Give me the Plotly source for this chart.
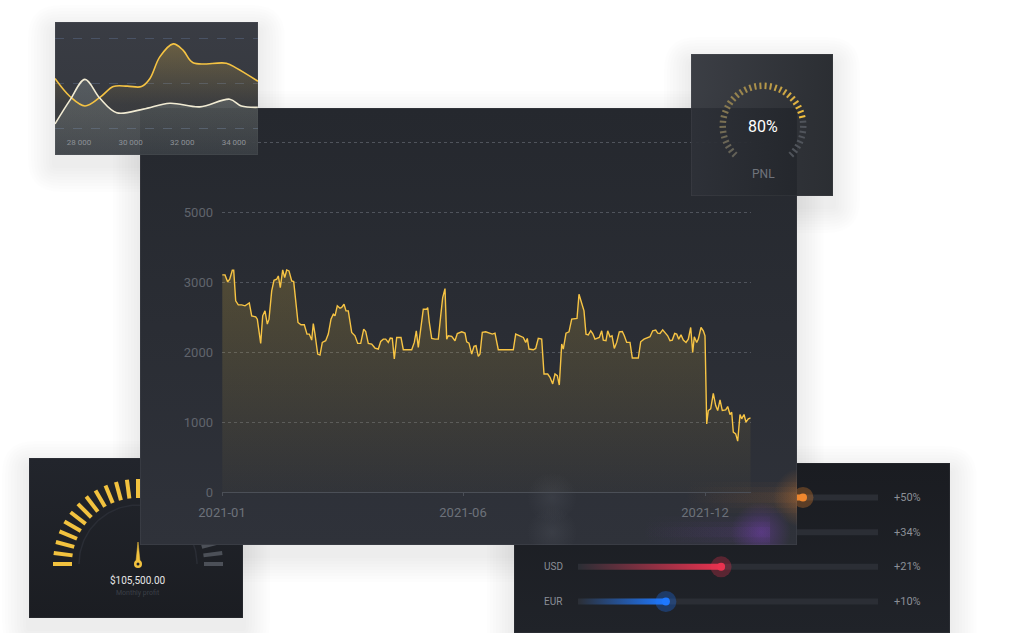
import numpy as np
import plotly.graph_objects as go

W, H = 1020, 633
FONT = "Roboto"

# ---------------------------------------------------------------- data
# main area chart (x = step index along the year, y = value)
main_t = [0.3, 3, 5.7, 7.7, 10.3, 11.7, 13.7, 16.3, 19.7, 23, 25.3, 27.3, 29.7, 33.7, 35.3, 38.7,
          40.7, 43, 45.3, 47, 49.7, 52, 54.7, 56.3, 58.3, 60.7, 62.7, 64.7, 67, 69.7, 71.7, 76,
          79, 82.3, 85, 87.3, 89.7, 91.3, 93, 95.7, 98, 100.3, 103.7, 106.3, 109, 111.3, 113,
          115.3, 118, 119.7, 122, 124, 126.3, 129.7, 133, 135.7, 138.7, 141.7, 143.7, 146.3,
          149.7, 153, 156.3, 158.7, 161.3, 163.7, 166.3, 168.3, 170.3, 172.3, 174.7,
          179, 181.3, 184.7, 189.7, 192.3, 194.3, 196.3, 199, 201.3, 204.7, 205.7, 207.3, 209.7,
          213, 216.3, 218.7, 220.7, 223, 224.7, 226.3, 229.7, 233, 235.3, 239.7, 243, 244.7,
          247, 249.7, 252, 254, 256.3, 258, 260.3, 263.7, 267, 270.3, 273, 276.3, 279.7, 283,
          286.3, 291.3, 293.7, 298, 301.3, 303.7, 305.3, 307, 311.3, 313.7, 316.3, 319.7, 322,
          325.7, 328, 330.7, 333, 335.3, 337.3, 339.7, 341.3, 344, 347, 349.7, 353, 355, 357,
          359.7, 362, 364, 366.3, 368.7, 370.7, 373, 375.3, 377.3, 379.7, 381.3, 384, 385.7,
          388, 390, 392.3, 394.7, 397.3, 400.3, 402.3, 404.7, 408, 410.3, 416.3, 418.7, 422,
          425.3, 428, 430.7, 433.7, 435.7, 438, 440.7, 443, 445.7, 448, 450.3, 452.7, 454.7,
          456.7, 459, 461.3, 464, 466.3, 468.7, 470.7, 472.3, 474.7, 476.3, 479, 481.3, 483,
          484.7, 486.3, 488.7, 491.3, 493.7, 495.7, 498, 500.3, 503.7, 505.7, 508, 509.7,
          511.3, 513.7, 515.7, 518, 519.7, 522, 524, 526.3, 528.7]
main_v = [3110, 3110, 3010, 3048, 3176, 3176, 2738, 2681, 2681, 2667, 2690, 2710, 2524, 2510, 2476, 2129,
          2524, 2595, 2405, 2476, 2881, 3033, 3048, 3095, 2929, 3181, 3071, 3181, 3167, 3024, 3014, 2429,
          2395, 2395, 2262, 2262, 2176, 2414, 2262, 1976, 1962, 2143, 2167, 2262, 2476, 2548, 2524,
          2667, 2633, 2643, 2690, 2595, 2595, 2286, 2238, 2129, 2129, 2333, 2300, 2129,
          2119, 2062, 2048, 2157, 2190, 2190, 2143, 2205, 2200, 1905, 2214,
          2214, 2038, 2038, 2038, 2143, 2310, 2071, 2381, 2619, 2619, 2643, 2429, 2200,
          2190, 2190, 2524, 2786, 2914, 2190, 2238, 2229, 2167, 2271, 2295, 2276, 2152,
          2133, 1976, 2086, 2095, 1943, 1976, 2286, 2295, 2276, 2262, 2276, 2038, 2038, 2038,
          2048, 2038, 2262, 2238, 2214, 2143, 2200, 2048, 2038, 2057, 2200, 2190, 1690,
          1690, 1643, 1548, 1690, 1667, 1533, 2119, 2048, 2276, 2295, 2476, 2476, 2486, 2833,
          2690, 2595, 2262, 2252, 2310, 2271, 2190, 2205, 2214, 2310, 2176, 2167, 2310,
          2224, 2238, 2057, 2143, 2295, 2300, 2238, 2143, 2143, 1919, 1919, 2152, 2190,
          2214, 2224, 2310, 2319, 2276, 2271, 2324, 2286, 2238, 2167, 2176, 2271, 2262,
          2190, 2252, 2176, 2143, 2190, 2357, 2000, 2224, 2143, 2190, 2357, 2310, 2238,
          976, 1167, 1190, 1414, 1238, 1167, 1319, 1167, 1176, 1224, 1110, 1143,
          857, 833, 729, 1110, 1048, 1110, 1000, 1048, 1062]
main_x_tickvals = [0, 241, 483]
main_x_ticktext = ["2021-01", "2021-06", "2021-12"]
main_y_tickvals = [0, 1000, 2000, 3000, 4000, 5000]
main_y_ticktext = ["0", "1000", "2000", "3000", "5000", ""]

# small two-series chart
mini_yellow_x = [27070, 27650, 28230, 28810, 29330, 29870, 30420, 30750, 31130, 31650, 32030, 32420, 33710, 34100, 34930]
mini_yellow_y = [17.0, 13.0, 10.9, 12.8, 15.2, 15.3, 15.2, 17.0, 21.8, 24.7, 23.3, 20.5, 20.4, 19.3, 16.4]
mini_white_x = [27070, 27650, 28230, 28810, 29460, 30490, 31520, 32680, 33840, 34290, 34930]
mini_white_y = [6.9, 12.2, 16.8, 12.6, 9.4, 10.2, 11.5, 10.7, 12.4, 10.9, 10.6]
mini_tickvals = [28000, 30000, 32000, 34000]
mini_ticktext = ["28 000", "30 000", "32 000", "34 000"]

# gauges
pnl_percent = 80
profit_amount = 105500.00
profit_share = 0.5

# sliders
slider_names = [None, None, "USD", "EUR"]
slider_change = [50, 34, 21, 10]
slider_level = [0.75, 0.61, 0.477, 0.293]
slider_colors = ["#f0872e", "#8b45d6", "#e8324f", "#1e78ff"]

# ---------------------------------------------------------------- geometry (px)
P_GAUGE = (29, 458, 243, 618)
P_SLIDER = (514, 463, 950, 633)
P_MAIN = (140, 108, 797, 545)
P_MINI = (55, 22, 258, 155)
P_PNL = (691, 54, 833, 196)
MAIN_PLOT = (222, 138.8, 750.7, 492)
MAIN_YMAX = 5060
GAUGE_C = (138, 564)
PNL_C = (763, 126)
TRACK_X0, TRACK_LEN, ROW_Y0, ROW_GAP = 578, 300, 497.5, 34.67


def dom(r):
    x0, y0, x1, y1 = r
    return [x0 / W, x1 / W], [1 - y1 / H, 1 - y0 / H]


def rgba(hexc, a):
    h = hexc.lstrip("#")
    return "rgba(%d,%d,%d,%.3f)" % (int(h[0:2], 16), int(h[2:4], 16), int(h[4:6], 16), a)


def sx_(px):
    return (px - TRACK_X0) / TRACK_LEN


def sy_(py):
    return (py - ROW_Y0) / ROW_GAP


layout = dict(template="none", width=W, height=H, autosize=False, margin=dict(l=0, r=0, t=0, b=0, pad=0),
              paper_bgcolor="white", plot_bgcolor="rgba(0,0,0,0)", showlegend=False,
              hovermode=False, font=dict(family=FONT), shapes=[], annotations=[])


def set_axes(n, rect, xr, yr):
    xd, yd = dom(rect)
    s = "" if n == 1 else str(n)
    layout["xaxis" + s] = dict(domain=xd, range=xr, anchor="y" + s, visible=False, fixedrange=True,
                               automargin=False)
    layout["yaxis" + s] = dict(domain=yd, range=yr, anchor="x" + s, visible=False, fixedrange=True,
                               automargin=False)
    return xr, yr


R1 = set_axes(1, P_GAUGE, [P_GAUGE[0] - GAUGE_C[0], P_GAUGE[2] - GAUGE_C[0]],
              [GAUGE_C[1] - P_GAUGE[3], GAUGE_C[1] - P_GAUGE[1]])
R2 = set_axes(2, P_SLIDER, [sx_(P_SLIDER[0]), sx_(P_SLIDER[2])], [sy_(P_SLIDER[3]), sy_(P_SLIDER[1])])
R3 = set_axes(3, P_MAIN, [sx_(P_MAIN[0]), sx_(P_MAIN[2])], [sy_(P_MAIN[3]), sy_(P_MAIN[1])])
R4 = set_axes(4, MAIN_PLOT, [0, 528.7], [0, MAIN_YMAX])
R5 = set_axes(5, P_MINI, [0, 1], [0, 1])
R6 = set_axes(6, P_MINI, [27070, 34935], [0, 29.56])
R7 = set_axes(7, P_PNL, [P_PNL[0] - PNL_C[0], P_PNL[2] - PNL_C[0]],
              [PNL_C[1] - P_PNL[3], PNL_C[1] - P_PNL[1]])

traces = []


def ax(n):
    s = "" if n == 1 else str(n)
    return dict(xaxis="x" + s, yaxis="y" + s, hoverinfo="skip", showlegend=False)


def bg_rect(n, R, c0, c1, gtype="vertical", border="rgba(255,255,255,0.06)"):
    xr, yr = R
    traces.append(go.Scatter(x=[xr[0], xr[1], xr[1], xr[0], xr[0]], y=[yr[0], yr[0], yr[1], yr[1], yr[0]],
                             mode="lines", fill="toself", line=dict(color=border, width=1.5),
                             fillgradient=dict(type=gtype, colorscale=[[0, c0], [1, c1]]), **ax(n)))


def glow(n, x, y, size, col, a):
    traces.append(go.Scatter(x=[x], y=[y], mode="markers",
                             marker=dict(size=size, color=rgba(col, 0), line=dict(width=0),
                                         gradient=dict(type="radial", color=rgba(col, a))), **ax(n)))


def rounded_path(x0, y0, x1, y1, r):
    # pixel rect -> paper path with rounded corners
    X = lambda v: "%.5f" % (v / W)
    Y = lambda v: "%.5f" % (1 - v / H)
    return ("M %s,%s L %s,%s Q %s,%s %s,%s L %s,%s Q %s,%s %s,%s L %s,%s Q %s,%s %s,%s "
            "L %s,%s Q %s,%s %s,%s Z" % (
                X(x0 + r), Y(y0), X(x1 - r), Y(y0), X(x1), Y(y0), X(x1), Y(y0 + r),
                X(x1), Y(y1 - r), X(x1), Y(y1), X(x1 - r), Y(y1),
                X(x0 + r), Y(y1), X(x0), Y(y1), X(x0), Y(y1 - r),
                X(x0), Y(y0 + r), X(x0), Y(y0), X(x0 + r), Y(y0)))


# ---------------------------------------------------------------- soft shadows
for rect in [P_GAUGE, P_SLIDER, P_MAIN, P_MINI, P_PNL]:
    for k in range(1, 10):
        e = 3.0 * k
        layout["shapes"].append(dict(type="path", xref="paper", yref="paper", layer="below",
                                     path=rounded_path(rect[0] - e, rect[1] - e + 10, rect[2] + e,
                                                       rect[3] + e + 10, e * 1.2),
                                     line=dict(width=0), fillcolor="rgba(0,0,0,0.009)"))

# ---------------------------------------------------------------- 1: profit gauge
bg_rect(1, R1, "#1b1d22", "#22252c")
arc = np.radians(np.linspace(180, 0, 90))
traces.append(go.Scatter(x=59 * np.cos(arc), y=59 * np.sin(arc), mode="lines",
                         line=dict(color="#2a2d35", width=1.5), **ax(1)))
n_g = 25
for on, col in [(True, "#f2c23f"), (False, "#4c5058")]:
    xs, ys = [], []
    for i in range(n_g):
        f = i / (n_g - 1)
        if (f <= profit_share + 1e-9) != on:
            continue
        a = np.radians(180 - 180 * f)
        xs += [66 * np.cos(a), 85 * np.cos(a), None]
        ys += [66 * np.sin(a), 85 * np.sin(a), None]
    traces.append(go.Scatter(x=xs, y=ys, mode="lines", line=dict(color=col, width=4), **ax(1)))
na = np.radians(180 - 180 * profit_share)
px_, py_ = -np.sin(na), np.cos(na)
traces.append(go.Scatter(x=[2.3 * px_, 22 * np.cos(na), -2.3 * px_, 2.3 * px_],
                         y=[2.3 * py_, 22 * np.sin(na), -2.3 * py_, 2.3 * py_],
                         mode="lines", fill="toself", fillcolor="#f2c23f",
                         line=dict(color="#f2c23f", width=0.5), **ax(1)))
traces.append(go.Scatter(x=[0], y=[0], mode="markers", marker=dict(size=8, color="#f2c23f"), **ax(1)))
traces.append(go.Scatter(x=[0], y=[0], mode="markers", marker=dict(size=3, color="#1e2128"), **ax(1)))
layout["annotations"] += [
    dict(xref="x", yref="y", x=0, y=-16, text="$%s" % format(profit_amount, ",.2f"), showarrow=False,
         font=dict(size=10, color="#e6e6e6")),
    dict(xref="x", yref="y", x=0, y=-29, text="Monthly profit", showarrow=False,
         font=dict(size=7, color="#3b3f47")),
]

# ---------------------------------------------------------------- 2: sliders
bg_rect(2, R2, "#202329", "#1a1c21")
half = 3 / ROW_GAP
for i, (lvl, col) in enumerate(zip(slider_level, slider_colors)):
    traces.append(go.Scatter(x=[0, 1], y=[i, i], mode="lines", line=dict(color="#2b2e35", width=6), **ax(2)))
    traces.append(go.Scatter(x=[0, lvl, lvl, 0, 0], y=[i - half, i - half, i + half, i + half, i - half],
                             mode="lines", line=dict(width=0), fill="toself",
                             fillgradient=dict(type="horizontal",
                                               colorscale=[[0, rgba(col, 0)], [1, rgba(col, 1)]]), **ax(2)))
    traces.append(go.Scatter(x=[lvl], y=[i], mode="markers",
                             marker=dict(size=21, color=rgba(col, 0.3), line=dict(width=0)), **ax(2)))
    traces.append(go.Scatter(x=[lvl], y=[i], mode="markers",
                             marker=dict(size=8, color=col, line=dict(width=0)), **ax(2)))
    if slider_names[i]:
        layout["annotations"].append(dict(xref="x2", yref="y2", x=sx_(542), y=i, xanchor="left",
                                          text=slider_names[i], showarrow=False,
                                          font=dict(size=10, color="#8b8f97")))
    layout["annotations"].append(dict(xref="x2", yref="y2", x=sx_(892), y=i, xanchor="left",
                                      text="+%d%%" % slider_change[i], showarrow=False,
                                      font=dict(size=11, color="#8b8f97")))

# ---------------------------------------------------------------- 3: main panel (frosted glass)
bg_rect(3, R3, "#2f323a", "#25282e", border="rgba(255,255,255,0.07)")
for i, (lvl, col) in enumerate(zip(slider_level, slider_colors)):
    if ROW_Y0 + i * ROW_GAP > P_MAIN[3]:
        continue
    for hh, a in [(0.45, 0.04), (0.3, 0.06), (0.15, 0.08)]:
        traces.append(go.Scatter(x=[lvl - 0.4, lvl + 0.03, lvl + 0.03, lvl - 0.4, lvl - 0.4],
                                 y=[i - hh, i - hh, i + hh, i + hh, i - hh], mode="lines",
                                 line=dict(width=0), fill="toself",
                                 fillgradient=dict(type="horizontal",
                                                   colorscale=[[0, rgba(col, 0)], [1, rgba(col, a)]]), **ax(3)))
    glow(3, lvl, i, 60, col, 0.35)
    glow(3, sx_(552), i, 50, "#a0a6b2", 0.10)

# ---------------------------------------------------------------- 4: main chart
traces.append(go.Scatter(x=main_t, y=main_v, mode="lines", line=dict(color="#f7c444", width=1.4),
                         fill="tozeroy",
                         fillgradient=dict(type="vertical", start=0, stop=3200,
                                           colorscale=[[0, "rgba(245,200,66,0.02)"],
                                                       [1, "rgba(245,200,66,0.20)"]]), **ax(4)))
layout["xaxis4"].update(visible=True, tickmode="array", tickvals=main_x_tickvals, ticktext=main_x_ticktext,
                        ticks="outside", ticklen=3, tickcolor="#4b4f57", showline=True, linecolor="#4b4f57",
                        linewidth=1, showgrid=False, zeroline=False, ticklabelstandoff=5,
                        tickfont=dict(size=13, color="#6d717a"))
layout["yaxis4"].update(visible=True, tickmode="array", tickvals=main_y_tickvals, ticktext=main_y_ticktext,
                        showgrid=True, gridcolor="#50545c", griddash="dot", gridwidth=1, zeroline=False,
                        showline=False, ticks="", ticklabelstandoff=8,
                        tickfont=dict(size=13, color="#60646c"))

# ---------------------------------------------------------------- 5/6: mini chart
bg_rect(5, R5, "rgba(38,41,48,0.93)", "rgba(44,47,55,0.93)")
traces.append(go.Scatter(x=mini_yellow_x, y=mini_yellow_y, mode="lines", line=dict(width=0, shape="spline"),
                         fill="tozeroy",
                         fillgradient=dict(type="vertical", start=0, stop=25,
                                           colorscale=[[0, "rgba(245,195,67,0)"], [0.45, "rgba(245,195,67,0.03)"],
                                                       [1, "rgba(245,195,67,0.26)"]]), **ax(6)))
traces.append(go.Scatter(x=mini_white_x, y=mini_white_y, mode="lines", line=dict(width=0, shape="spline"),
                         fill="tozeroy",
                         fillgradient=dict(type="vertical", start=0, stop=17,
                                           colorscale=[[0, "rgba(185,200,195,0.13)"],
                                                       [1, "rgba(185,200,195,0.24)"]]), **ax(6)))
traces.append(go.Scatter(x=mini_yellow_x, y=mini_yellow_y, mode="lines",
                         line=dict(color="#f5c343", width=1.6, shape="spline", smoothing=1.0), **ax(6)))
traces.append(go.Scatter(x=mini_white_x, y=mini_white_y, mode="lines",
                         line=dict(color="#f1ebd3", width=1.6, shape="spline", smoothing=1.0), **ax(6)))
layout["xaxis6"].update(visible=True, anchor="free", position=1 - 136 / H, tickmode="array",
                        tickvals=mini_tickvals, ticktext=mini_ticktext, ticks="", showgrid=False,
                        showline=False, zeroline=False, tickfont=dict(size=8, color="#8d9197"))
layout["yaxis6"].update(visible=True, tickmode="linear", tick0=5.8, dtick=10, showticklabels=False,
                        showgrid=True, gridcolor="rgba(90,105,135,0.5)", griddash="dash", gridwidth=1,
                        zeroline=False, showline=False, ticks="")

# ---------------------------------------------------------------- 7: PNL gauge
bg_rect(7, R7, "rgba(46,49,56,0.93)", "rgba(33,36,41,0.95)", gtype="horizontal")
n_p = 38
lo, hi = np.array([100, 98, 88]), np.array([247, 195, 62])
for i in range(n_p):
    f = i / (n_p - 1)
    a = np.radians(225 - 270 * f)
    if f <= pnl_percent / 100 + 1e-9:
        t = (f / (pnl_percent / 100)) ** 1.3
        c = lo + (hi - lo) * t
        col = "rgb(%d,%d,%d)" % tuple(c)
    else:
        col = "#50545b"
    traces.append(go.Scatter(x=[37 * np.cos(a), 43.5 * np.cos(a)], y=[37 * np.sin(a), 43.5 * np.sin(a)],
                             mode="lines", line=dict(color=col, width=2), **ax(7)))
layout["annotations"] += [
    dict(xref="x7", yref="y7", x=0, y=0, text="%d%%" % pnl_percent, showarrow=False,
         font=dict(size=16, color="#ffffff")),
    dict(xref="x7", yref="y7", x=0, y=-48, text="PNL", showarrow=False,
         font=dict(size=12, color="#6f737b")),
]

fig = go.Figure(data=traces, layout=layout)
fig.write_html("out.html", config=dict(displayModeBar=False, staticPlot=True))
